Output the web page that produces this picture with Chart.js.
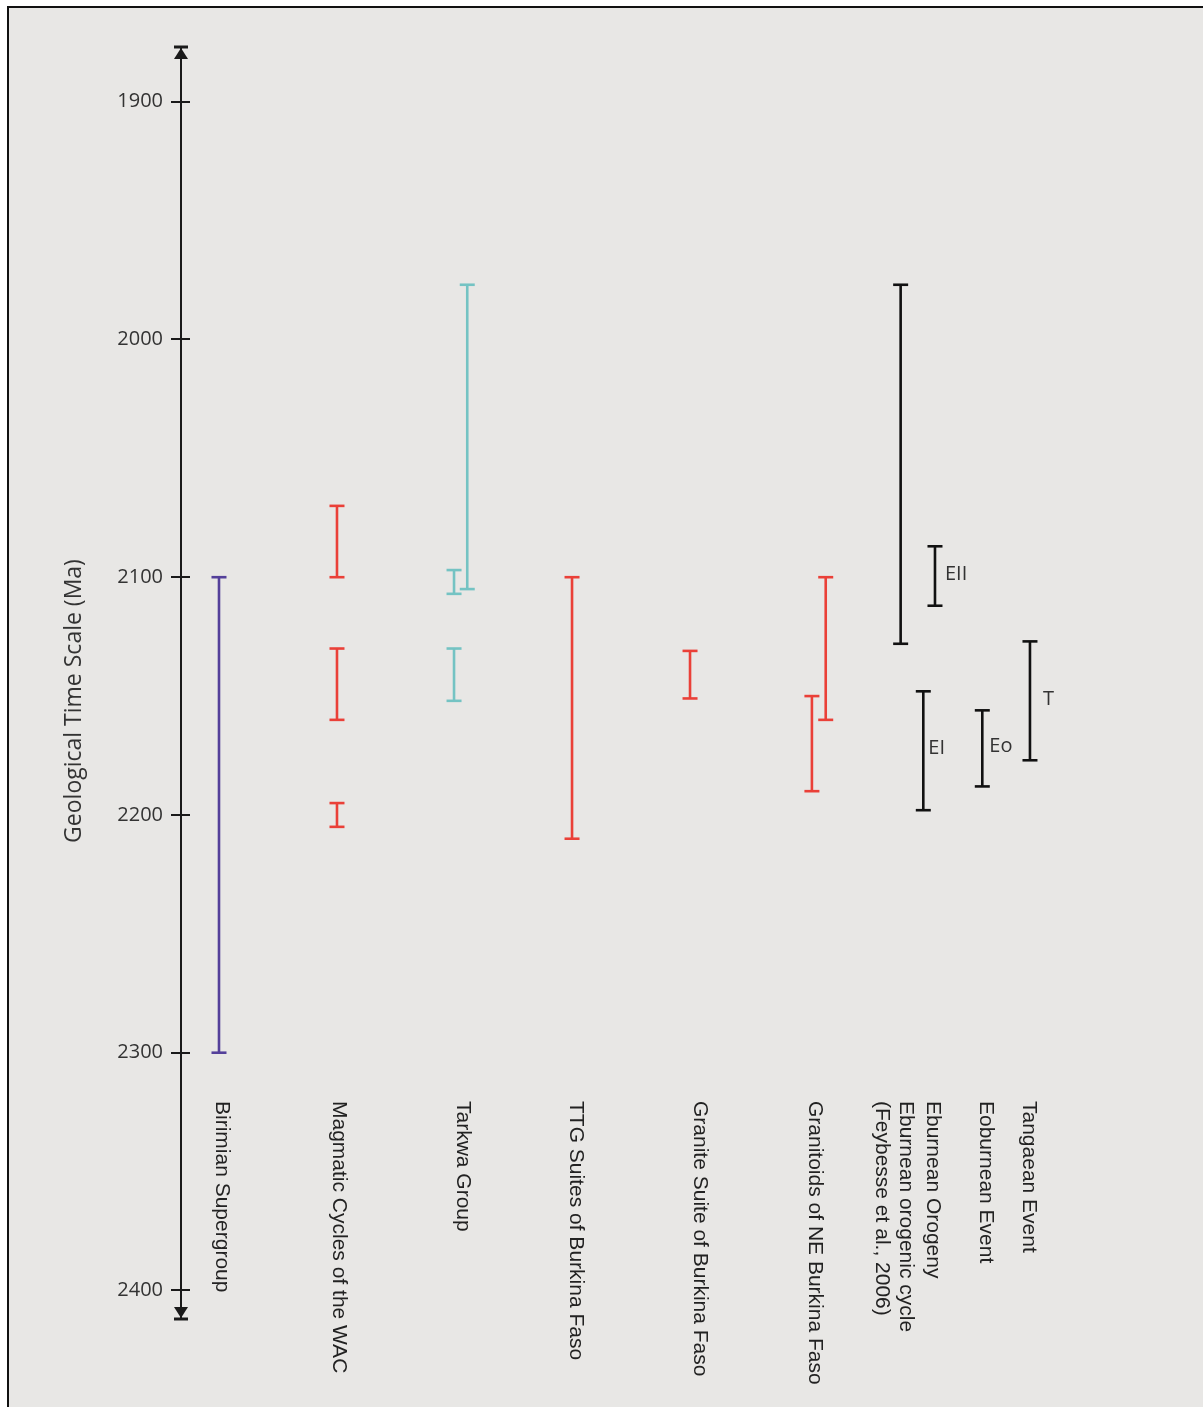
<!DOCTYPE html>
<html>
<head>
<meta charset="utf-8">
<title>Geological Time Scale</title>
<script src="https://cdn.jsdelivr.net/npm/chart.js@4.4.1/dist/chart.umd.min.js"></script>
<style>
  html, body { margin: 0; padding: 0; background: #ffffff; }
  body { width: 1203px; height: 1407px; position: relative; overflow: hidden; }
  #frame {
    position: absolute; left: 7px; top: 6px; right: -10px; bottom: -10px;
    border-left: 2px solid #111; border-top: 2px solid #111;
    background: #e8e7e5;
  }
  #chart { position: absolute; left: 0; top: 0; }
</style>
</head>
<body>
<div id="frame"></div>
<canvas id="chart" width="1203" height="1407"></canvas>
<script>
// Columns shown along the bottom of the time scale
const categories = [
  'Birimian Supergroup',
  'Magmatic Cycles of the WAC',
  'Tarkwa Group',
  'TTG Suites of Burkina Faso',
  'Granite Suite of Burkina Faso',
  'Granitoids of NE Burkina Faso',
  ['Eburnean orogenic cycle', '(Feybesse et al., 2006)'],
  'Eburnean Orogeny',
  'Eoburnean Event',
  'Tangaean Event'
];

// Age ranges (Ma): column index, older/younger bounds, short tag
const rangeCategory = [0, 1, 1, 1, 2, 2, 2, 3, 4, 5, 5, 6, 7, 7, 8, 9];
const rangeFrom     = [2100, 2070, 2130, 2195, 1977, 2097, 2130, 2100, 2131, 2100, 2150, 1977, 2087, 2148, 2156, 2127];
const rangeTo       = [2300, 2100, 2160, 2205, 2105, 2107, 2152, 2210, 2151, 2160, 2190, 2128, 2112, 2198, 2188, 2177];
const rangeTag      = ['', '', '', '', '', '', '', '', '', '', '', '', 'EII', 'EI', 'Eo', 'T'];

// Time axis tick labels (Ma)
const tickValues = [1900, 2000, 2100, 2200, 2300, 2400];

// ---- layout (horizontal slots in column units) ----
const rangeSlot = [1.0, 2.0, 2.0, 2.0, 3.104, 2.992, 2.992, 3.992, 4.992, 6.142, 6.025, 6.777, 7.068, 6.969, 7.469, 7.873];
const labelSlot = [1.025, 2.013, 3.068, 4.025, 5.076, 6.047, 6.72, 7.05, 7.5, 7.864];
const tagGap    = { EII: 10, EI: 5, Eo: 7, T: 13 };

// ---- styles ----
const categoryColor = ['#54409a', '#ea4038', '#74c3c3', '#ea4038', '#ea4038', '#ea4038', '#111111', '#111111', '#111111', '#111111'];
const INK = '#1a1a1a';
const TEXT = '#333333';

const datasets = rangeFrom.map((from, i) => {
  const color = categoryColor[rangeCategory[i]];
  return {
    label: rangeTag[i] || String(i),
    data: [{ x: rangeSlot[i], y: from }, { x: rangeSlot[i], y: rangeTo[i] }],
    showLine: true,
    borderColor: color,
    borderWidth: 2.6,
    pointStyle: 'line',
    pointRadius: 7.5,
    pointHoverRadius: 7.5,
    pointBorderColor: color,
    pointBorderWidth: 2.6,
    pointBackgroundColor: color,
    fill: false
  };
});

const decor = {
  id: 'decor',
  afterDraw(chart) {
    const { ctx, chartArea, scales } = chart;
    const x = scales.x, y = scales.y;
    const ax = chartArea.left;
    ctx.save();

    // inner half of the tick marks
    ctx.strokeStyle = INK;
    ctx.lineWidth = 2;
    y.ticks.forEach(t => {
      const py = Math.round(y.getPixelForValue(t.value));
      ctx.beginPath();
      ctx.moveTo(ax, py);
      ctx.lineTo(ax + 9, py);
      ctx.stroke();
    });

    // arrow heads at both ends of the time axis
    ctx.fillStyle = INK;
    ctx.lineWidth = 3;
    [[chartArea.top, 1], [chartArea.bottom, -1]].forEach(([py, dir]) => {
      ctx.beginPath();
      ctx.moveTo(ax - 7, py);
      ctx.lineTo(ax + 7, py);
      ctx.stroke();
      ctx.beginPath();
      ctx.moveTo(ax, py + dir * 1);
      ctx.lineTo(ax - 7, py + dir * 12);
      ctx.lineTo(ax + 7, py + dir * 12);
      ctx.closePath();
      ctx.fill();
    });

    // axis title
    ctx.fillStyle = TEXT;
    ctx.font = '23px "Open Sans"';
    ctx.textAlign = 'center';
    ctx.textBaseline = 'middle';
    ctx.save();
    ctx.translate(74, 701);
    ctx.rotate(-Math.PI / 2);
    ctx.fillText('Geological Time Scale (Ma)', 0, 0);
    ctx.restore();

    // column labels, reading downwards
    ctx.fillStyle = '#222222';
    ctx.font = '21px "Liberation Sans", Arial, sans-serif';
    ctx.textAlign = 'left';
    ctx.textBaseline = 'middle';
    categories.forEach((lab, i) => {
      const lines = Array.isArray(lab) ? lab : [lab];
      const cx = x.getPixelForValue(labelSlot[i]);
      const lh = 24;
      lines.forEach((ln, k) => {
        const px = cx + ((lines.length - 1) / 2 - k) * lh;
        ctx.save();
        ctx.translate(px, 1101);
        ctx.rotate(Math.PI / 2);
        ctx.fillText(ln, 0, 0);
        ctx.restore();
      });
    });

    // short tags beside the event ranges
    ctx.fillStyle = TEXT;
    ctx.font = '20px "Open Sans"';
    ctx.textAlign = 'left';
    ctx.textBaseline = 'middle';
    rangeTag.forEach((tag, i) => {
      if (!tag) return;
      const px = x.getPixelForValue(rangeSlot[i]) + tagGap[tag];
      const py = y.getPixelForValue((rangeFrom[i] + rangeTo[i]) / 2) - 2;
      ctx.fillText(tag, px, py);
    });

    ctx.restore();
  }
};

new Chart(document.getElementById('chart'), {
  type: 'scatter',
  data: { datasets },
  options: {
    responsive: false,
    animation: false,
    devicePixelRatio: 1,
    events: [],
    layout: { padding: { top: 47, bottom: 88, left: 0, right: 22 } },
    plugins: { legend: { display: false }, tooltip: { enabled: false } },
    scales: {
      x: {
        type: 'linear',
        display: false,
        min: 0.678,
        max: 9.153
      },
      y: {
        type: 'linear',
        reverse: true,
        min: 1877,
        max: 2412,
        afterBuildTicks(scale) {
          scale.ticks = tickValues.map(v => ({ value: v }));
        },
        afterFit(scale) { scale.width = 181; },
        border: { display: true, color: INK, width: 2 },
        grid: {
          drawOnChartArea: false,
          drawTicks: true,
          tickLength: 10,
          color: INK,
          lineWidth: 2
        },
        ticks: {
          padding: 8,
          color: TEXT,
          font: { family: 'Open Sans', size: 20 },
          callback: v => String(v)
        }
      }
    }
  },
  plugins: [decor]
});
</script>
</body>
</html>
